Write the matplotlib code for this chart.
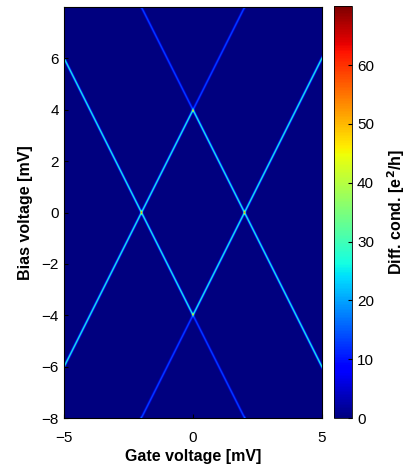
import numpy as np
import matplotlib
matplotlib.use("Agg")
import matplotlib.pyplot as plt

plt.rcParams['font.family'] = ['Liberation Sans', 'DejaVu Sans']

# sweep ranges [mV]
gate_range = [-5.0, 5.0]
bias_range = [-8.0, 8.0]

# charge degeneracy points on the gate axis and diamond edge slopes (dVb/dVg)
degeneracy_gate = [-2.0, 2.0]
edge_slopes = [2.0, -2.0]

# peak heights [e^2/h]: diamond edges, and the edges past the diamond tips
peak_edge = 29.0
peak_outer = 15.0
peak_width = 0.026      # mV, across the edge
tip_bias = 4.0          # |Vb| of the diamond tips

cbar_ticks = [0, 10, 20, 30, 40, 50, 60]
cmax = 70

vg = np.linspace(gate_range[0], gate_range[1], 517)
vb = np.linspace(bias_range[0], bias_range[1], 825)
VG, VB = np.meshgrid(vg, vb)

G = np.zeros_like(VG)
for g0 in degeneracy_gate:
    for s in edge_slopes:
        # distance from the edge Vb = s * (Vg - g0)
        dist = np.abs(VB - s * (VG - g0)) / np.hypot(1.0, s)
        amp = np.where((np.abs(VB) > tip_bias) & (np.abs(VG) < abs(g0)),
                       peak_outer, peak_edge)
        G += amp * np.exp(-0.5 * (dist / peak_width) ** 2)

fig = plt.figure(figsize=(4.1, 4.75), dpi=100)
ax = fig.add_axes([0.156, 0.12, 0.629, 0.865])
cax = fig.add_axes([0.815, 0.12, 0.044, 0.867])

im = ax.imshow(G, origin='lower', aspect='auto', cmap='jet',
               vmin=0, vmax=cmax, interpolation='antialiased',
               extent=[gate_range[0], gate_range[1], bias_range[0], bias_range[1]])

ax.set_xticks([-5, 0, 5])
ax.set_yticks(np.arange(-8, 7, 2))
ax.tick_params(direction='in', labelsize=11, length=3)
ax.tick_params(axis='x', pad=9)
ax.set_xlabel('Gate voltage [mV]', fontsize=11.5, fontweight='bold', labelpad=3)
ax.set_ylabel('Bias voltage [mV]', fontsize=11.5, fontweight='bold', labelpad=6)

cb = fig.colorbar(im, cax=cax, ticks=cbar_ticks)
cb.ax.tick_params(direction='in', labelsize=11, length=3)
cb.outline.set_linewidth(0.6)
cb.set_label('Diff. cond. [e$^\\mathbf{2}$/h]', fontsize=11.5, fontweight='bold', labelpad=8)

fig.savefig('out.png', dpi=100)
